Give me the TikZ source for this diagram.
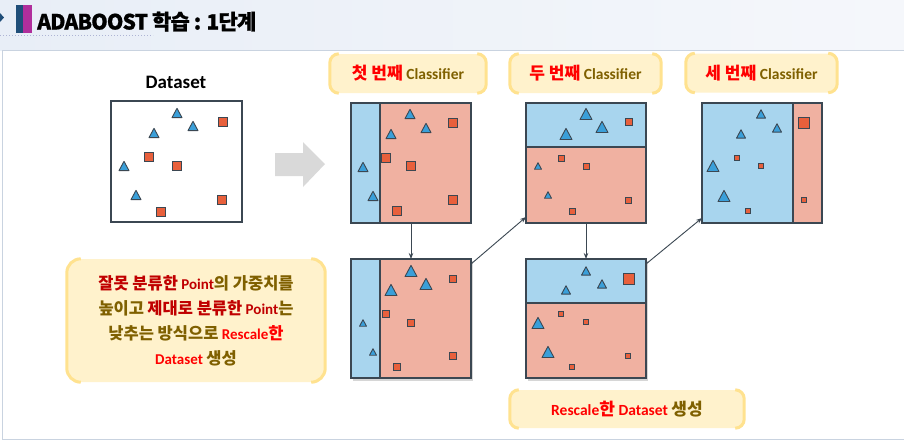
\documentclass[tikz,border=0pt]{standalone}
\usepackage{fontspec}
\setmainfont{Carlito}
\newfontfamily\kr{Noto Sans CJK KR}[Scale=1.1]
\newfontfamily\ttlfont{Noto Sans CJK KR}[LetterSpace=-4, BoldFeatures={FakeBold=0.8}]
\usetikzlibrary{arrows.meta}

\definecolor{zoneblue}{HTML}{A8D5EE}
\definecolor{zonepink}{HTML}{F0B1A1}
\definecolor{triblue}{HTML}{3A9FD9}
\definecolor{sqred}{HTML}{E8603C}
\definecolor{edgegray}{HTML}{3B4752}
\definecolor{hlfill}{HTML}{FFF2CC}
\definecolor{hlgold}{HTML}{FFE28F}
\definecolor{olivetxt}{HTML}{7F6000}
\definecolor{darkred}{HTML}{C00000}
\definecolor{brightred}{HTML}{FF0000}
\definecolor{bandleft}{HTML}{E8EEF7}
\definecolor{bandright}{HTML}{F5F7FB}
\definecolor{panelline}{HTML}{C9D3E0}
\definecolor{bigarrow}{HTML}{D9D9D9}
\definecolor{boxshadow}{HTML}{D6D6D6}
\definecolor{titlenavy}{HTML}{1F4E79}
\definecolor{titlemag}{HTML}{B02E9C}
\definecolor{dotline}{HTML}{AEB4D4}

% markers: x, y, size
\newcommand{\blueTri}[3]{\filldraw[tri, shift={(#1,#2)}] ({-#3/2},{0.46*#3}) -- ({#3/2},{0.46*#3}) -- (0,{-0.47*#3}) -- cycle;}
\newcommand{\redSq}[3]{\filldraw[sqr] ({#1-#3/2},{#2-#3/2}) rectangle ({#1+#3/2},{#2+#3/2});}
% gold side brackets of a highlight box
\newcommand{\hlBrackets}[2]{%
  \draw[hlgold, line width=3pt, rounded corners=#2] ([xshift=#2]#1.north west) -- (#1.north west) -- (#1.south west) -- ([xshift=#2]#1.south west);
  \draw[hlgold, line width=3pt, rounded corners=#2] ([xshift=-#2]#1.north east) -- (#1.north east) -- (#1.south east) -- ([xshift=-#2]#1.south east);}

\begin{document}
\begin{tikzpicture}[x=1pt, y=-1pt,
    tri/.style={fill=triblue, draw=edgegray, line width=0.9pt, line join=round},
    sqr/.style={fill=sqred, draw=edgegray, line width=0.9pt},
    clsbox/.style={draw=edgegray, line width=2.4pt, minimum width=120pt, minimum height=120pt, inner sep=0pt, outer sep=0pt},
    hlbox/.style={fill=hlfill, inner sep=0pt, align=center},
    flow/.style={draw=edgegray, line width=0.9pt, -{Stealth[length=6pt, width=4.5pt]}}]
    \useasboundingbox (0,0) rectangle (904,440);

    % Title band
    \shade[left color=bandleft, right color=bandright] (0,0) rectangle (904,50);
    \fill[titlenavy] (-4,13) -- (0,13) -- (4,17.5) -- (0,22) -- (-4,22) -- cycle;
    \fill[titlenavy] (16,5) rectangle (23,33);
    \fill[titlemag] (23,5) rectangle (31.5,33);
    \node[anchor=base west, inner sep=0pt, font=\ttlfont\bfseries\fontsize{21}{25}\selectfont] (title) at (37,29.5) {ADABOOST 학습 : 1단계};
    \draw[dotline, dotted, line width=1pt] (0,35) -- (153,35);
    \draw[panelline, fill=white, line width=1pt] (2.5,50) rectangle (910,439);

    % Original dataset
    \node[font=\bfseries\fontsize{19}{22}\selectfont] (dlabel) at (176,82) {Dataset};
    \node[clsbox, draw=edgegray, minimum width=131pt, minimum height=121pt, line width=2pt] (data) at (176.5,161.5) {};
    \blueTri{177}{113}{10} \blueTri{193}{126}{10} \blueTri{154}{133}{10}
    \blueTri{124}{166}{10} \blueTri{136}{195}{10}
    \redSq{222.5}{121.5}{9} \redSq{149}{157}{9} \redSq{176.5}{166}{9}
    \redSq{222}{200}{9} \redSq{161}{211.5}{9}

    \fill[bigarrow] (275,153) -- (303,153) -- (303,142) -- (325,164) -- (303,187) -- (303,176) -- (275,176) -- cycle;

    % Classifier 1
    \fill[zoneblue] (351,103) rectangle (380,223);
    \fill[zonepink] (380,103) rectangle (471,223);
    \draw[edgegray, line width=2.4pt] (380,103) -- (380,223);
    \blueTri{410}{114}{10} \blueTri{426}{128}{10} \blueTri{391}{134}{10}
    \blueTri{363}{167}{10} \blueTri{373}{196}{10}
    \redSq{453}{123}{8.5} \redSq{386}{158}{8.5} \redSq{411}{166}{8.5}
    \redSq{453}{200}{8.5} \redSq{397}{211}{8.5}
    \node[clsbox] (c1top) at (411,163) {};

    \fill[boxshadow] (353,261) rectangle (473,381);
    \fill[zoneblue] (351,259) rectangle (380,378);
    \fill[zonepink] (380,259) rectangle (471,378);
    \draw[edgegray, line width=2.4pt] (380,259) -- (380,378);
    \blueTri{411}{271}{12} \blueTri{426}{284}{12} \blueTri{391}{290}{12}
    \blueTri{363}{323}{7} \blueTri{373}{352}{7}
    \redSq{453}{279}{7} \redSq{386}{314}{7} \redSq{411}{323}{7}
    \redSq{453}{356}{7} \redSq{397}{367}{7}
    \node[clsbox, minimum height=119pt] (c1bot) at (411,318.5) {};

    % Classifier 2
    \fill[zoneblue] (526,103) rectangle (646,147);
    \fill[zonepink] (526,147) rectangle (646,223);
    \draw[edgegray, line width=2.4pt] (526,147) -- (646,147);
    \blueTri{586}{114}{12} \blueTri{602}{127}{12} \blueTri{566}{134}{12}
    \blueTri{538}{166}{7} \blueTri{548}{195}{7}
    \redSq{629}{122}{6.5} \redSq{561}{158}{6} \redSq{586}{166}{6}
    \redSq{628}{200}{6} \redSq{572}{211}{6}
    \node[clsbox] (c2top) at (586,163) {};

    \fill[boxshadow] (528,261) rectangle (648,381);
    \fill[zoneblue] (526,259) rectangle (646,303);
    \fill[zonepink] (526,303) rectangle (646,378);
    \draw[edgegray, line width=2.4pt] (526,303) -- (646,303);
    \blueTri{586}{271}{9} \blueTri{602}{284}{9} \blueTri{566}{290}{9}
    \blueTri{538}{323}{12} \blueTri{548}{352}{12}
    \redSq{629}{279}{11} \redSq{561}{314}{5} \redSq{586}{322}{5}
    \redSq{628}{356}{5} \redSq{572}{367}{5}
    \node[clsbox, minimum height=119pt] (c2bot) at (586,318.5) {};

    % Classifier 3
    \fill[zoneblue] (702,103) rectangle (793,223);
    \fill[zonepink] (793,103) rectangle (822,223);
    \draw[edgegray, line width=2.4pt] (793,103) -- (793,223);
    \blueTri{761}{114}{9} \blueTri{777}{128}{9} \blueTri{741}{134}{9}
    \blueTri{713}{166}{12} \blueTri{724}{196}{12}
    \redSq{804}{123}{11} \redSq{737}{158}{5} \redSq{761}{166}{5}
    \redSq{804}{200}{5} \redSq{748}{211}{5}
    \node[clsbox] (c3top) at (762,163) {};

    % Flow between steps
    \draw[flow] (c1top.south) -- (c1bot.north);
    \draw[flow] ([yshift=-5pt]c1bot.north east) -- ([yshift=6pt]c2top.south west);
    \draw[flow] (c2top.south) -- (c2bot.north);
    \draw[flow] ([yshift=-5pt]c2bot.north east) -- ([yshift=5pt]c3top.south west);

    % Highlight boxes
    \node[hlbox, minimum width=156pt, minimum height=39pt, rounded corners=9pt, font=\bfseries\fontsize{15.5}{18}\selectfont] (lab1) at (408,73.5)
      {\textcolor{brightred}{\kr 첫 번째} \textcolor{olivetxt}{Classifier}};
    \hlBrackets{lab1}{9pt}
    \node[hlbox, minimum width=151pt, minimum height=39pt, rounded corners=9pt, font=\bfseries\fontsize{15.5}{18}\selectfont] (lab2) at (585.5,73.5)
      {\textcolor{brightred}{\kr 두 번째} \textcolor{olivetxt}{Classifier}};
    \hlBrackets{lab2}{9pt}
    \node[hlbox, minimum width=151pt, minimum height=39pt, rounded corners=9pt, font=\bfseries\fontsize{15.5}{18}\selectfont] (lab3) at (761.5,73)
      {\textcolor{brightred}{\kr 세 번째} \textcolor{olivetxt}{Classifier}};
    \hlBrackets{lab3}{9pt}

    \node[hlbox, minimum width=258pt, minimum height=123pt, rounded corners=14pt, font=\bfseries\fontsize{15}{25}\selectfont] (note) at (196,320.5)
      {\textcolor{darkred}{{\kr 잘못 분류한} Point}\textcolor{olivetxt}{\kr 의 가중치를}\\
       \textcolor{olivetxt}{\kr 높이고} \textcolor{darkred}{{\kr 제대로 분류한} Point}\textcolor{olivetxt}{\kr 는}\\
       \textcolor{olivetxt}{\kr 낮추는 방식으로} \textcolor{brightred}{Rescale{\kr 한}}\\
       \textcolor{brightred}{Dataset} \textcolor{olivetxt}{\kr 생성}};
    \hlBrackets{note}{14pt}

    \node[hlbox, minimum width=234pt, minimum height=38pt, rounded corners=9pt, font=\bfseries\fontsize{15.5}{18}\selectfont] (rescale) at (627,409)
      {\textcolor{brightred}{Rescale{\kr 한} Dataset} \textcolor{olivetxt}{\kr 생성}};
    \hlBrackets{rescale}{9pt}
\end{tikzpicture}
\end{document}
